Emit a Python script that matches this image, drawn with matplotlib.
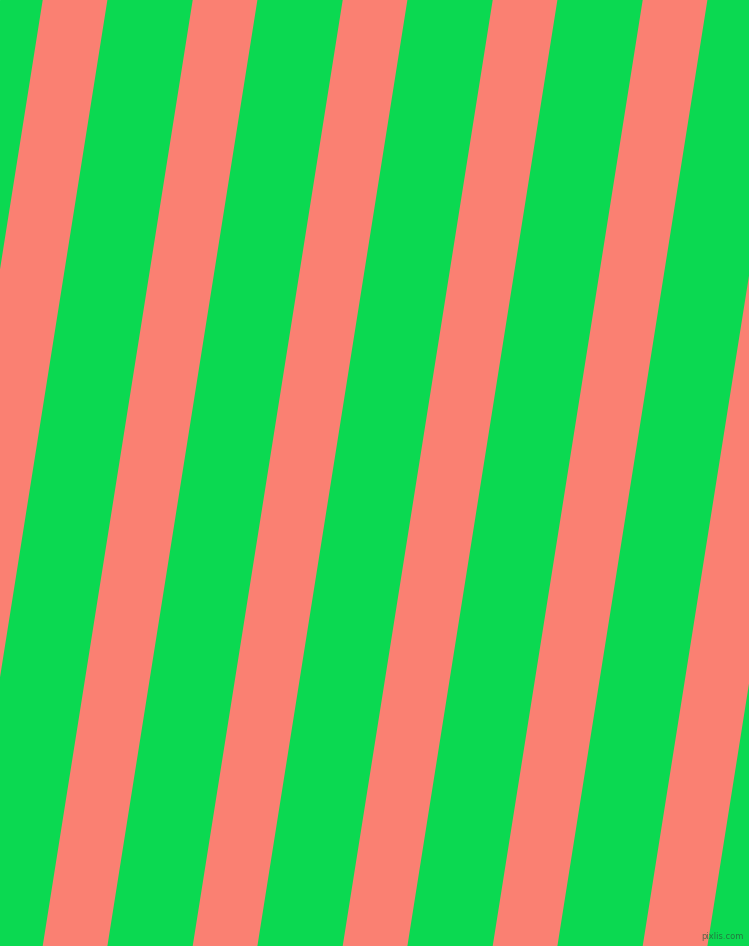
import matplotlib
matplotlib.use("Agg")
import matplotlib.pyplot as plt

# salmon stripes: left edge along the top row (px), and where it lands on the bottom row
top_left = [42.7, 192.7, 342.7, 492.7, 642.7, 792.7]
bottom_left = [-107.3, 42.7, 192.7, 342.7, 492.7, 642.7]
stripe_width = 64.7

W, H = 749, 946
GREEN = "#0BD951"
SALMON = "#FA8072"

fig = plt.figure(figsize=(W / 100, H / 100), dpi=100)
ax = fig.add_axes([0, 0, 1, 1])
ax.set_xlim(0, W)
ax.set_ylim(H, 0)
ax.axis("off")
ax.add_patch(plt.Rectangle((0, 0), W, H, color=GREEN, zorder=0))

for t, b in zip(top_left, bottom_left):
    xs = [t, t + stripe_width, b + stripe_width, b]
    ys = [0, 0, H, H]
    ax.fill(xs, ys, color=SALMON, lw=0, zorder=1)

ax.text(744, 936, "pixlis.com", ha="right", va="center", fontsize=6,
        color="#2a5a3a", alpha=0.75, zorder=2)

fig.savefig("out.png", dpi=100)
